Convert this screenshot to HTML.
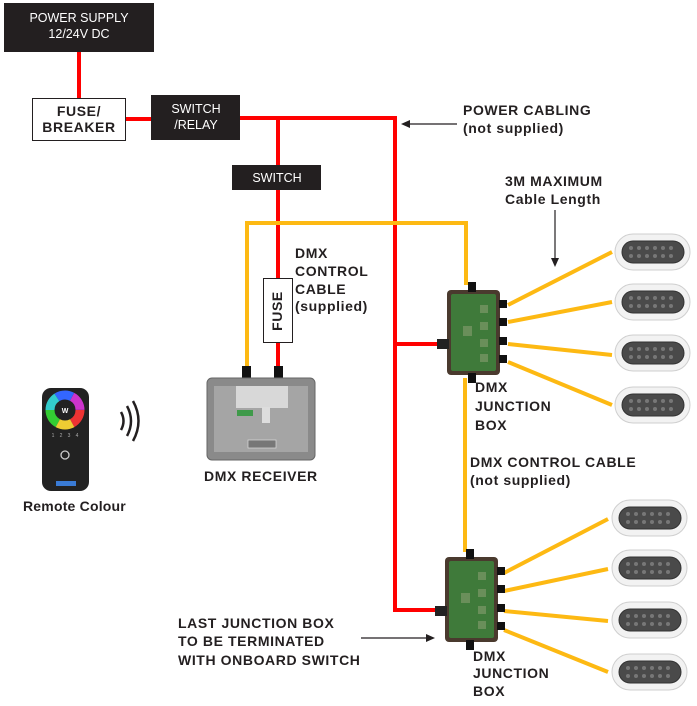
<!DOCTYPE html>
<html><head><meta charset="utf-8"><style>
html,body{margin:0;padding:0;background:#fff;width:697px;height:706px;overflow:hidden}
text{font-family:"Liberation Sans",sans-serif}
.b{font-weight:bold;font-size:14px;fill:#231f20;letter-spacing:0.6px}
.w{fill:#fff;font-size:12.5px}
</style></head><body>
<svg width="697" height="706" viewBox="0 0 697 706" xmlns="http://www.w3.org/2000/svg">
<defs>
<g id="light">
<rect x="0" y="0" width="75" height="36" rx="18" fill="#f2f2f2" stroke="#cfcfcf"/>
<rect x="7" y="7" width="62" height="22" rx="11" fill="#4a4a4a" stroke="#333"/>
<g fill="#777"><circle cx="16" cy="14" r="2"/><circle cx="24" cy="14" r="2"/><circle cx="32" cy="14" r="2"/><circle cx="40" cy="14" r="2"/><circle cx="48" cy="14" r="2"/><circle cx="56" cy="14" r="2"/><circle cx="16" cy="22" r="2"/><circle cx="24" cy="22" r="2"/><circle cx="32" cy="22" r="2"/><circle cx="40" cy="22" r="2"/><circle cx="48" cy="22" r="2"/><circle cx="56" cy="22" r="2"/></g>
</g>
<g id="jb">
<rect x="0" y="0" width="53" height="85" rx="4" fill="#4a3a2e"/>
<rect x="4" y="4" width="45" height="77" rx="2" fill="#3f7a3a"/>
<g fill="#6a8f5a"><rect x="33" y="15" width="8" height="8"/><rect x="33" y="32" width="8" height="8"/><rect x="33" y="49" width="8" height="8"/><rect x="33" y="64" width="8" height="8"/><rect x="16" y="36" width="9" height="10"/></g>
<rect x="21" y="-8" width="8" height="10" fill="#111"/>
<rect x="21" y="83" width="8" height="10" fill="#111"/>
<rect x="-10" y="49" width="12" height="10" fill="#222"/>
<g fill="#111"><rect x="52" y="10" width="8" height="8"/><rect x="52" y="28" width="8" height="8"/><rect x="52" y="47" width="8" height="8"/><rect x="52" y="65" width="8" height="8"/></g>
</g>
</defs>

<g stroke="#ff0000" stroke-width="4" fill="none">
<line x1="79" y1="52" x2="79" y2="98"/>
<line x1="126" y1="119" x2="151" y2="119"/>
<polyline points="240,118 395,118 395,610 438,610"/>
<line x1="395" y1="344" x2="440" y2="344"/>
<line x1="278" y1="118" x2="278" y2="370"/>
</g>
<g stroke="#fdb913" stroke-width="4" fill="none">
<polyline points="247,372 247,223 466,223 466,285"/>
<line x1="465" y1="378" x2="465" y2="552"/>
<line x1="508" y1="305" x2="612" y2="252"/>
<line x1="508" y1="322" x2="612" y2="302"/>
<line x1="508" y1="344" x2="612" y2="355"/>
<line x1="508" y1="362" x2="612" y2="405"/>
<line x1="504" y1="573" x2="608" y2="519"/>
<line x1="504" y1="591" x2="608" y2="569"/>
<line x1="504" y1="611" x2="608" y2="621"/>
<line x1="504" y1="630" x2="608" y2="672"/>
</g>

<rect x="4" y="3" width="150" height="49" fill="#231f20"/>
<text class="w" x="79" y="22" text-anchor="middle">POWER SUPPLY</text>
<text class="w" x="79" y="38" text-anchor="middle">12/24V DC</text>
<rect x="32.5" y="98.5" width="93" height="42" fill="#fff" stroke="#231f20"/>
<text class="b" x="79" y="116" text-anchor="middle" font-size="12.5">FUSE/</text>
<text class="b" x="79" y="132" text-anchor="middle" font-size="12.5">BREAKER</text>
<rect x="151" y="95" width="89" height="45" fill="#231f20"/>
<text class="w" x="196" y="113" text-anchor="middle">SWITCH</text>
<text class="w" x="196" y="129" text-anchor="middle">/RELAY</text>
<rect x="232" y="165" width="89" height="25" fill="#231f20"/>
<text class="w" x="277" y="182" text-anchor="middle">SWITCH</text>
<rect x="263.5" y="278.5" width="29" height="64" fill="#fff" stroke="#231f20"/>
<text class="b" font-size="12" transform="translate(282,311) rotate(-90)" text-anchor="middle">FUSE</text>

<rect x="242" y="366" width="9" height="12" fill="#111"/>
<rect x="274" y="366" width="9" height="12" fill="#111"/>
<rect x="207" y="378" width="108" height="82" rx="5" fill="#8a8a8a" stroke="#666"/>
<rect x="214" y="386" width="94" height="66" fill="#a5a5a5"/>
<rect x="236" y="386" width="52" height="22" fill="#d8d8d8"/>
<rect x="237" y="410" width="16" height="6" fill="#3f9a4a"/>
<rect x="262" y="407" width="8" height="16" fill="#ddd"/>
<rect x="248" y="440" width="28" height="8" fill="#777" stroke="#ddd" stroke-width=".7"/>
<text class="b" x="204" y="481">DMX RECEIVER</text>

<rect x="42" y="388" width="47" height="103" rx="9" fill="#222"/>
<circle cx="65" cy="410" r="15" fill="none" stroke="#e33" stroke-width="9" stroke-dasharray="16 80"/>
<circle cx="65" cy="410" r="15" fill="none" stroke="#3c3" stroke-width="9" stroke-dasharray="16 80" stroke-dashoffset="-31"/>
<circle cx="65" cy="410" r="15" fill="none" stroke="#36f" stroke-width="9" stroke-dasharray="16 80" stroke-dashoffset="-62"/>
<circle cx="65" cy="410" r="15" fill="none" stroke="#ec3" stroke-width="9" stroke-dasharray="15 80" stroke-dashoffset="-16"/>
<circle cx="65" cy="410" r="15" fill="none" stroke="#3cc" stroke-width="9" stroke-dasharray="15 80" stroke-dashoffset="-47"/>
<circle cx="65" cy="410" r="15" fill="none" stroke="#c3c" stroke-width="9" stroke-dasharray="16 80" stroke-dashoffset="-78"/>
<circle cx="65" cy="410" r="7" fill="#222"/>
<text x="65" y="413" font-size="7" fill="#fff" text-anchor="middle" font-weight="bold">W</text>
<g fill="#aaa" font-size="5" text-anchor="middle"><text x="53" y="437">1</text><text x="61" y="437">2</text><text x="69" y="437">3</text><text x="77" y="437">4</text></g>
<circle cx="65" cy="455" r="4" fill="none" stroke="#ccc" stroke-width="1.3"/>
<rect x="56" y="481" width="20" height="5" fill="#3a7bd5"/>
<text class="b" x="23" y="511" font-size="11" style="letter-spacing:0.2px">Remote Colour</text>
<g stroke="#231f20" stroke-width="2.5" fill="none">
<path d="M121,412 q5,9 0,18"/><path d="M127,406 q8,15 0,30"/><path d="M133,401 q11,20 0,40"/>
</g>

<use href="#jb" x="447" y="290"/>
<use href="#jb" x="445" y="557"/>

<use href="#light" x="615" y="234"/>
<use href="#light" x="615" y="284"/>
<use href="#light" x="615" y="335"/>
<use href="#light" x="615" y="387"/>
<use href="#light" x="612" y="500"/>
<use href="#light" x="612" y="550"/>
<use href="#light" x="612" y="602"/>
<use href="#light" x="612" y="654"/>

<g stroke="#231f20" stroke-width="1.2" fill="#231f20">
<line x1="457" y1="124" x2="408" y2="124"/><path d="M401,124 l9,-4 v8 z" stroke="none"/>
<line x1="555" y1="210" x2="555" y2="260"/><path d="M555,267 l-4,-9 h8 z" stroke="none"/>
<line x1="361" y1="638" x2="428" y2="638"/><path d="M435,638 l-9,-4 v8 z" stroke="none"/>
</g>

<text class="b" x="463" y="115">POWER CABLING</text>
<text class="b" x="463" y="133">(not supplied)</text>
<text class="b" x="505" y="186">3M MAXIMUM</text>
<text class="b" x="505" y="204">Cable Length</text>
<text class="b" x="295" y="258">DMX</text>
<text class="b" x="295" y="276">CONTROL</text>
<text class="b" x="295" y="294">CABLE</text>
<text class="b" x="295" y="311">(supplied)</text>
<text class="b" x="475" y="392">DMX</text>
<text class="b" x="475" y="411">JUNCTION</text>
<text class="b" x="475" y="430">BOX</text>
<text class="b" x="470" y="467">DMX CONTROL CABLE</text>
<text class="b" x="470" y="485">(not supplied)</text>
<text class="b" x="178" y="628">LAST JUNCTION BOX</text>
<text class="b" x="178" y="646">TO BE TERMINATED</text>
<text class="b" x="178" y="665">WITH ONBOARD SWITCH</text>
<text class="b" x="473" y="661">DMX</text>
<text class="b" x="473" y="678">JUNCTION</text>
<text class="b" x="473" y="696">BOX</text>
</svg>
</body></html>
